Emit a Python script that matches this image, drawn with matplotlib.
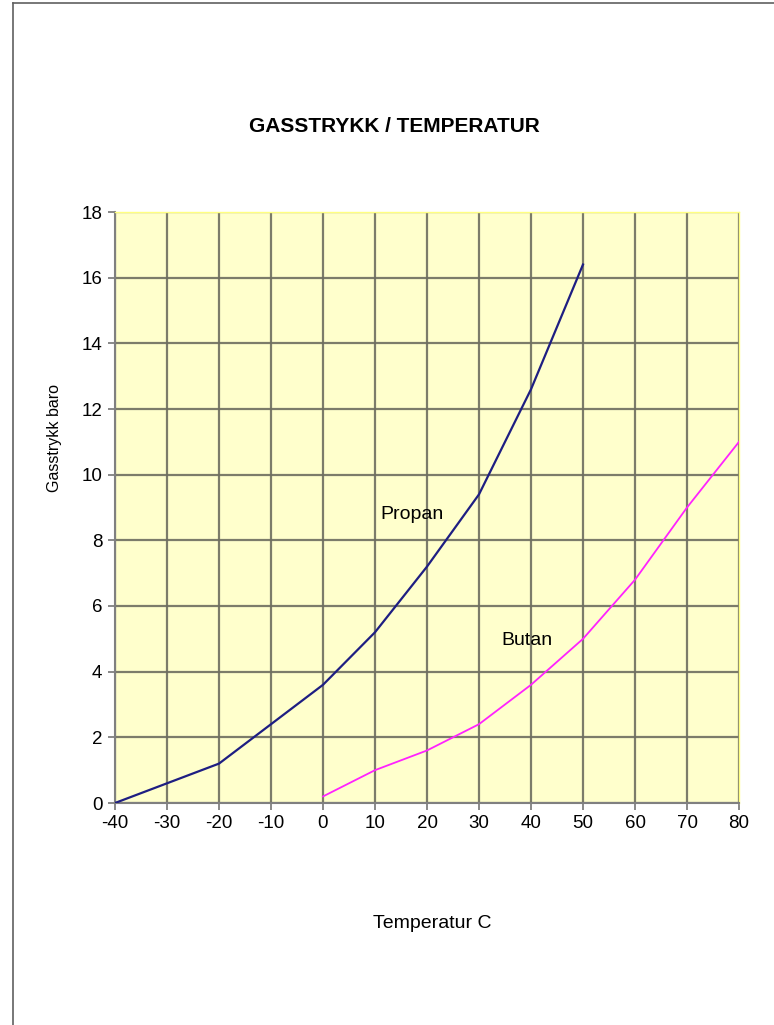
import numpy as np
import matplotlib
matplotlib.use("Agg")
from matplotlib import pyplot as plt
from matplotlib.lines import Line2D

plt.rcParams['font.family'] = ['Liberation Sans', 'DejaVu Sans']
plt.rcParams['axes.unicode_minus'] = False

# Data
propan_temp = [-40, -30, -20, -10, 0, 10, 20, 30, 40, 50]
propan_bar = [0.0, 0.6, 1.2, 2.4, 3.6, 5.2, 7.2, 9.4, 12.6, 16.4]
butan_temp = [0, 10, 20, 30, 40, 50, 60, 70, 80]
butan_bar = [0.2, 1.0, 1.6, 2.4, 3.6, 5.0, 6.8, 9.0, 11.0]
x_ticks = np.arange(-40, 81, 10)
y_ticks = np.arange(0, 19, 2)

fig = plt.figure(figsize=(7.74, 10.25), dpi=100)
W, H = 774, 1025
# axes box in pixels: left 115, right 739, top 212, bottom 803
ax = fig.add_axes([115 / W, 1 - 803 / H, (739 - 115) / W, (803 - 212) / H])

ax.set_facecolor('#FFFFCC')
ax.plot(propan_temp, propan_bar, color='#1E1E82', lw=1.6, zorder=3)
ax.plot(butan_temp, butan_bar, color='#FF22FF', lw=1.3, zorder=3)

ax.set_xlim(-40, 80)
ax.set_ylim(0, 18)
ax.set_xticks(x_ticks)
ax.set_yticks(y_ticks)
ax.grid(True, color='#6E6E60', lw=1.6, alpha=0.9, zorder=1)
ax.set_axisbelow(True)

for s in ['top', 'right']:
    ax.spines[s].set_color('#FFFF80')
    ax.spines[s].set_linewidth(1.0)
for s in ['left', 'bottom']:
    ax.spines[s].set_color('#808080')
    ax.spines[s].set_linewidth(1.5)
ax.tick_params(axis='both', labelsize=13.5, color='#808080', width=1.3, length=5, pad=4)

ax.text(17.2, 8.8, 'Propan', fontsize=14, ha='center', va='center')
ax.text(39.3, 4.95, 'Butan', fontsize=14, ha='center', va='center')

fig.text(394 / W, 1 - 127 / H, 'GASSTRYKK / TEMPERATUR', fontsize=15,
         fontweight='bold', ha='center', va='center')
fig.text(55 / W, 1 - 438 / H, 'Gasstrykk baro', fontsize=11.5, rotation=90,
         ha='center', va='center')
fig.text(432 / W, 1 - 923 / H, 'Temperatur C', fontsize=14,
         ha='center', va='center')

# page frame on left and top edges
fig.add_artist(Line2D([13 / W, 13 / W], [0, 1 - 3 / H], color='#606060', lw=1.2))
fig.add_artist(Line2D([13 / W, 1], [1 - 3 / H, 1 - 3 / H], color='#606060', lw=1.2))

fig.savefig('out.png', dpi=100)
